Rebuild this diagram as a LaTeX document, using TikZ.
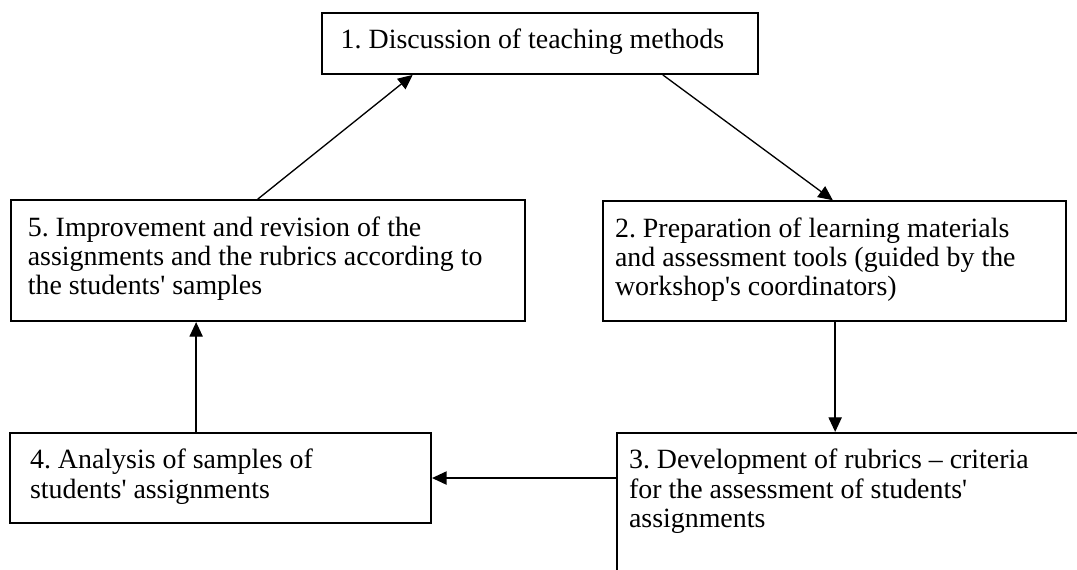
\documentclass[tikz,border=0pt]{standalone}
\usepackage{fontspec}
\setmainfont{Liberation Serif}[Ligatures=TeXOff]
\usetikzlibrary{arrows.meta,calc}
\hyphenpenalty=10000
\exhyphenpenalty=10000
\frenchspacing

\begin{document}
\begin{tikzpicture}[
    font=\fontsize{21pt}{22pt}\selectfont,
    stage/.style={
        draw,
        line width=1.5pt,
        anchor=north west,
        align=flush left,
        inner xsep=0.53cm,
        inner ysep=0pt,
        text height=0.95cm
    },
    narrow/.style={stage, inner xsep=0.32cm, text width=11.61cm},
    flow/.style={-{Triangle[length=11pt,width=10pt]}, line width=1pt}
]

\clip (0,0) rectangle (28.50,15.06);

\node[stage, inner xsep=0.5cm, text width=10.53cm, text depth=0.66cm] (discussion) at (8.49,14.74) {1. Discussion of teaching methods};
\node[stage, inner xsep=0.45cm, text width=12.7cm, text depth=2.25cm] (revision) at (0.26,9.79) {5. Improvement and revision of the assignments and the rubrics according to the students' samples};
\node[narrow, text depth=2.22cm] (preparation) at (15.93,9.76) {2. Preparation of learning materials and assessment tools (guided by the workshop's coordinators)};
\node[narrow, text depth=5cm] (development) at (16.30,3.63) {3. Development of rubrics – criteria\\for the assessment of students'\\assignments};
\node[stage, text width=10.08cm, text depth=1.43cm] (analysis) at (0.24,3.63) {4. Analysis of samples of students' assignments};

\draw[flow] ($(revision.north west)+(6.56,0)$) -- ($(discussion.south west)+(2.43,0)$);
\draw[flow] ($(discussion.south west)+(9.05,0)$) -- ($(preparation.north west)+(6.11,0)$);

\coordinate (prepOut) at ($(preparation.south west)+(6.17,0)$);
\draw[flow] (prepOut) -- (prepOut |- development.north);

\coordinate (devOut) at ($(development.north west)+(0,-1.22)$);
\draw[flow] (devOut) -- (devOut -| analysis.east);

\coordinate (anaOut) at ($(analysis.north west)+(4.95,0)$);
\draw[flow] (anaOut) -- (anaOut |- revision.south);

\end{tikzpicture}
\end{document}
